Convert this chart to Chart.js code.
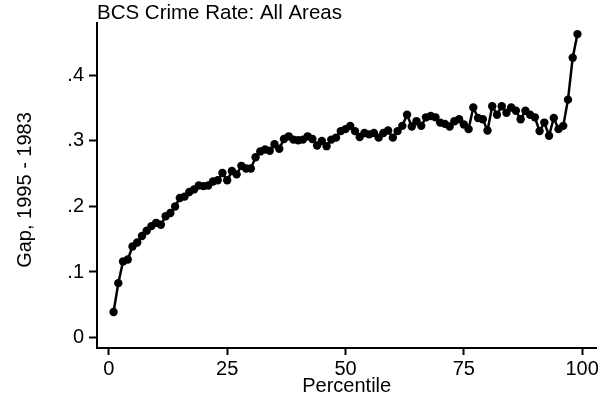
<!DOCTYPE html>
<html>
<head>
<meta charset="utf-8">
<script src="https://cdn.jsdelivr.net/npm/chart.js@4.4.1/dist/chart.umd.min.js"></script>
<style>
  html, body { margin: 0; padding: 0; background: #fff; }
  #wrap { width: 601px; height: 399px; }
</style>
</head>
<body>
<div id="wrap"><canvas id="chart"></canvas></div>
<script>
// percentil (eje x)
const percentiles = [
  1, 2, 3, 4, 5, 6, 7, 8, 9, 10, 11, 12, 13, 14, 15, 16, 17, 18, 19, 20,
  21, 22, 23, 24, 25, 26, 27, 28, 29, 30, 31, 32, 33, 34, 35, 36, 37, 38, 39, 40,
  41, 42, 43, 44, 45, 46, 47, 48, 49, 50, 51, 52, 53, 54, 55, 56, 57, 58, 59, 60,
  61, 62, 63, 64, 65, 66, 67, 68, 69, 70, 71, 72, 73, 74, 75, 76, 77, 78, 79, 80,
  81, 82, 83, 84, 85, 86, 87, 88, 89, 90, 91, 92, 93, 94, 95, 96, 97, 98, 99,
];

// gap 1995 - 1983
const gapValues = [
  0.039, 0.083, 0.116, 0.119, 0.139, 0.145, 0.155, 0.163, 0.170, 0.175,
  0.172, 0.185, 0.190, 0.200, 0.213, 0.215, 0.222, 0.226, 0.232, 0.231,
  0.232, 0.238, 0.240, 0.251, 0.240, 0.254, 0.249, 0.262, 0.258, 0.258,
  0.275, 0.284, 0.287, 0.285, 0.295, 0.288, 0.303, 0.307, 0.302, 0.301,
  0.302, 0.307, 0.303, 0.293, 0.300, 0.292, 0.302, 0.305, 0.315, 0.318,
  0.323, 0.315, 0.306, 0.312, 0.310, 0.312, 0.305, 0.312, 0.316, 0.305,
  0.315, 0.323, 0.340, 0.322, 0.330, 0.323, 0.336, 0.338, 0.336, 0.328,
  0.326, 0.322, 0.330, 0.333, 0.325, 0.318, 0.351, 0.335, 0.333, 0.316,
  0.353, 0.340, 0.353, 0.343, 0.351, 0.346, 0.333, 0.346, 0.340, 0.336,
  0.315, 0.328, 0.308, 0.335, 0.318, 0.323, 0.363, 0.427, 0.463,
];

const xTicks = [0, 25, 50, 75, 100];
const yTicks = [0, 0.1, 0.2, 0.3, 0.4];
const yTickLabels = ["0", ".1", ".2", ".3", ".4"];

const TITLE = "BCS Crime Rate: All Areas";
const X_TITLE = "Percentile";
const Y_TITLE = "Gap, 1995 - 1983";

const FONT = "'Liberation Sans', Arial, sans-serif";
const FSIZE = 20;

const puntos = percentiles.map((p, i) => ({ x: p, y: gapValues[i] }));

// titulo del eje y
const yTitlePlugin = {
  id: "yTitle",
  afterDraw(chart) {
    const ctx = chart.ctx;
    ctx.save();
    ctx.translate(25, 190);
    ctx.rotate(-Math.PI / 2);
    ctx.font = `${FSIZE}px ${FONT}`;
    ctx.fillStyle = "#000";
    ctx.textAlign = "center";
    ctx.textBaseline = "middle";
    ctx.fillText(Y_TITLE, 0, 0);
    ctx.restore();
  },
};

new Chart(document.getElementById("chart"), {
  type: "line",
  data: {
    datasets: [
      {
        data: puntos,
        borderColor: "#000",
        backgroundColor: "#000",
        borderWidth: 2.5,
        tension: 0,
        pointRadius: 4.2,
        pointBorderWidth: 0,
        clip: false,
      },
    ],
  },
  options: {
    responsive: true,
    maintainAspectRatio: false,
    animation: false,
    layout: { padding: 0 },
    plugins: {
      legend: { display: false },
      tooltip: { enabled: false },
      title: {
        display: true,
        text: TITLE,
        align: "start",
        fullSize: false,
        color: "#000",
        font: { family: FONT, size: 20.5, weight: "normal", lineHeight: 0.95 },
        padding: { top: 3.5, bottom: 0 },
      },
    },
    scales: {
      x: {
        type: "linear",
        min: -2.5,
        max: 103,
        afterBuildTicks: (scale) => {
          scale.ticks = xTicks.map((v) => ({ value: v }));
        },
        afterFit: (scale) => {
          scale.height = 51;
        },
        grid: {
          drawOnChartArea: false,
          drawTicks: true,
          tickLength: 7,
          tickWidth: 2,
          tickColor: "#000",
        },
        border: { display: true, color: "#000", width: 2 },
        ticks: {
          color: "#000",
          padding: 2,
          maxRotation: 0,
          font: { family: FONT, size: FSIZE },
          callback: (v) => String(v),
        },
        title: {
          display: true,
          text: X_TITLE,
          color: "#000",
          font: { family: FONT, size: FSIZE },
          padding: { top: 0, bottom: 1 },
        },
      },
      y: {
        type: "linear",
        min: -0.016,
        max: 0.48,
        afterBuildTicks: (scale) => {
          scale.ticks = yTicks.map((v) => ({ value: v }));
        },
        afterFit: (scale) => {
          scale.width = 97;
        },
        grid: {
          drawOnChartArea: false,
          drawTicks: true,
          tickLength: 8,
          tickWidth: 2,
          tickColor: "#000",
        },
        border: { display: true, color: "#000", width: 2 },
        ticks: {
          color: "#000",
          padding: 5,
          font: { family: FONT, size: FSIZE },
          callback: (v) => yTickLabels[yTicks.indexOf(v)] ?? "",
        },
      },
    },
  },
  plugins: [yTitlePlugin],
});
</script>
</body>
</html>
